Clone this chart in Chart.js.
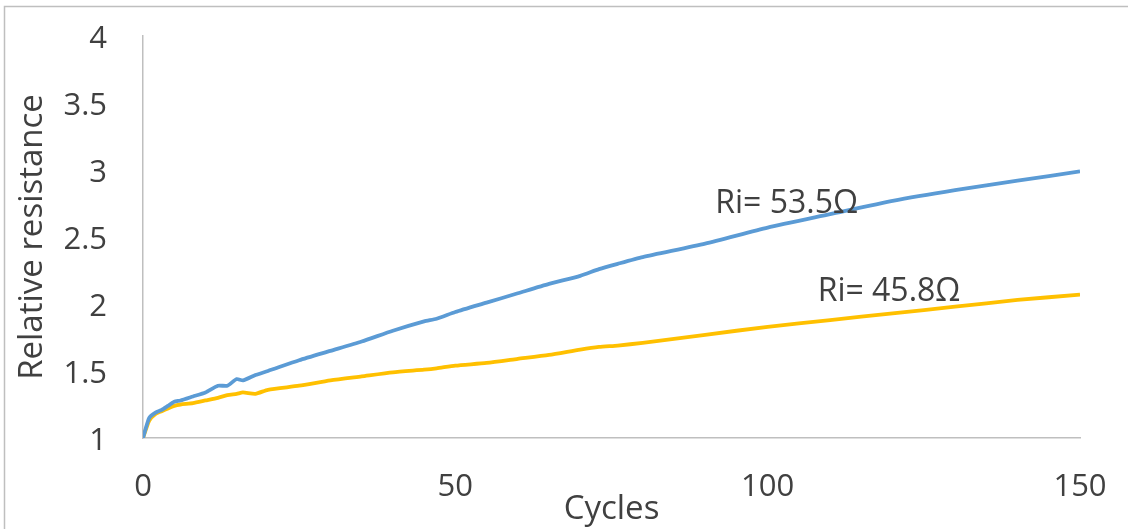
<!DOCTYPE html>
<html>
<head>
<meta charset="utf-8">
<script src="https://cdn.jsdelivr.net/npm/chart.js@4/dist/chart.umd.min.js"></script>
<style>
  html, body { margin: 0; padding: 0; background: #fff; }
  #wrap { position: relative; width: 1128px; height: 529px; }
</style>
</head>
<body>
<div id="wrap"><canvas id="mychart" width="1128" height="529"></canvas></div>
<script>
// values
const cycles = [0, 1, 2, 3, 4, 5, 6, 8, 10, 12, 13.5, 15, 16, 18, 20, 25, 30, 35, 40, 45, 47, 50, 55, 60, 65, 70, 73, 76, 80, 90, 100, 110, 120, 130, 140, 150];
const ri535 = [1.00, 1.15, 1.19, 1.21, 1.24, 1.27, 1.28, 1.31, 1.34, 1.39, 1.39, 1.44, 1.43, 1.47, 1.50, 1.58, 1.65, 1.72, 1.80, 1.87, 1.89, 1.94, 2.01, 2.08, 2.15, 2.21, 2.26, 2.30, 2.35, 2.45, 2.57, 2.67, 2.77, 2.85, 2.92, 2.99];
const ri458 = [1.00, 1.13, 1.18, 1.20, 1.22, 1.24, 1.25, 1.26, 1.28, 1.30, 1.32, 1.33, 1.34, 1.33, 1.36, 1.39, 1.43, 1.46, 1.49, 1.51, 1.52, 1.54, 1.56, 1.59, 1.62, 1.66, 1.68, 1.69, 1.71, 1.77, 1.83, 1.88, 1.93, 1.98, 2.03, 2.07];
const xTicks = [0, 50, 100, 150];
const yTicks = [1, 1.5, 2, 2.5, 3, 3.5, 4];
const seriesLabels = ['Ri= 53.5Ω', 'Ri= 45.8Ω'];
// where the in-chart labels sit, in data units (left edge, middle)
const labelSpots = [[91.6, 2.75], [108, 2.09]];

const textColor = '#404040';
const axisColor = '#bfbfbf';
const fontFamily = "'Open Sans', sans-serif";

const toPoints = (xs, ys) => xs.map((x, i) => ({ x: x, y: ys[i] }));

const frame = {
    id: 'frame',
    beforeDraw(chart) {
        const ctx = chart.ctx;
        ctx.save();
        ctx.strokeStyle = axisColor;
        ctx.lineWidth = 1.5;
        ctx.strokeRect(4.5, 6.5, 1200, 600);
        ctx.restore();
    }
};

const seriesText = {
    id: 'seriesText',
    afterDatasetsDraw(chart) {
        const ctx = chart.ctx;
        const xs = chart.scales.x;
        const ys = chart.scales.y;
        ctx.save();
        ctx.fillStyle = textColor;
        ctx.font = '32px ' + fontFamily;
        ctx.textAlign = 'left';
        ctx.textBaseline = 'middle';
        seriesLabels.forEach((txt, i) => {
            ctx.fillText(txt, xs.getPixelForValue(labelSpots[i][0]), ys.getPixelForValue(labelSpots[i][1]));
        });
        ctx.restore();
    }
};

new Chart(document.getElementById('mychart').getContext('2d'), {
    type: 'line',
    data: {
        datasets: [
            {
                label: seriesLabels[0],
                data: toPoints(cycles, ri535),
                borderColor: '#5b9bd5',
                borderWidth: 3.8,
                pointRadius: 0,
                tension: 0.2,
                fill: false
            },
            {
                label: seriesLabels[1],
                data: toPoints(cycles, ri458),
                borderColor: '#ffc000',
                borderWidth: 3.8,
                pointRadius: 0,
                tension: 0.2,
                fill: false
            }
        ]
    },
    options: {
        responsive: false,
        animation: false,
        layout: { padding: { left: 0, right: 48, top: 36, bottom: 0 } },
        plugins: {
            legend: { display: false },
            tooltip: { enabled: false }
        },
        scales: {
            x: {
                type: 'linear',
                min: 0,
                max: 150,
                afterBuildTicks: (axis) => { axis.ticks = xTicks.map(v => ({ value: v })); },
                afterFit: (axis) => {
                    axis.height = 91;
                    axis.paddingLeft = 0;
                    axis.paddingRight = 0;
                },
                grid: { display: false, drawTicks: false },
                border: { display: true, color: axisColor, width: 1.5 },
                ticks: { color: textColor, font: { family: fontFamily, size: 31 }, padding: 31, maxRotation: 0, callback: (v) => String(v) },
                title: { display: true, text: 'Cycles', color: textColor, font: { family: fontFamily, size: 33 }, padding: { top: -10, bottom: 0 } }
            },
            y: {
                min: 1,
                max: 4,
                afterBuildTicks: (axis) => { axis.ticks = yTicks.map(v => ({ value: v })); },
                afterFit: (axis) => {
                    axis.width = 143;
                    axis.paddingTop = 0;
                    axis.paddingBottom = 0;
                },
                grid: { display: false, drawTicks: false },
                border: { display: true, color: axisColor, width: 1.5 },
                ticks: { color: textColor, font: { family: fontFamily, size: 31 }, padding: 36, labelOffset: 3, callback: (v) => String(v) },
                title: { display: true, text: 'Relative resistance', color: textColor, font: { family: fontFamily, size: 33 }, padding: { top: 13, bottom: 0 } }
            }
        }
    },
    plugins: [frame, seriesText]
});
</script>
</body>
</html>
